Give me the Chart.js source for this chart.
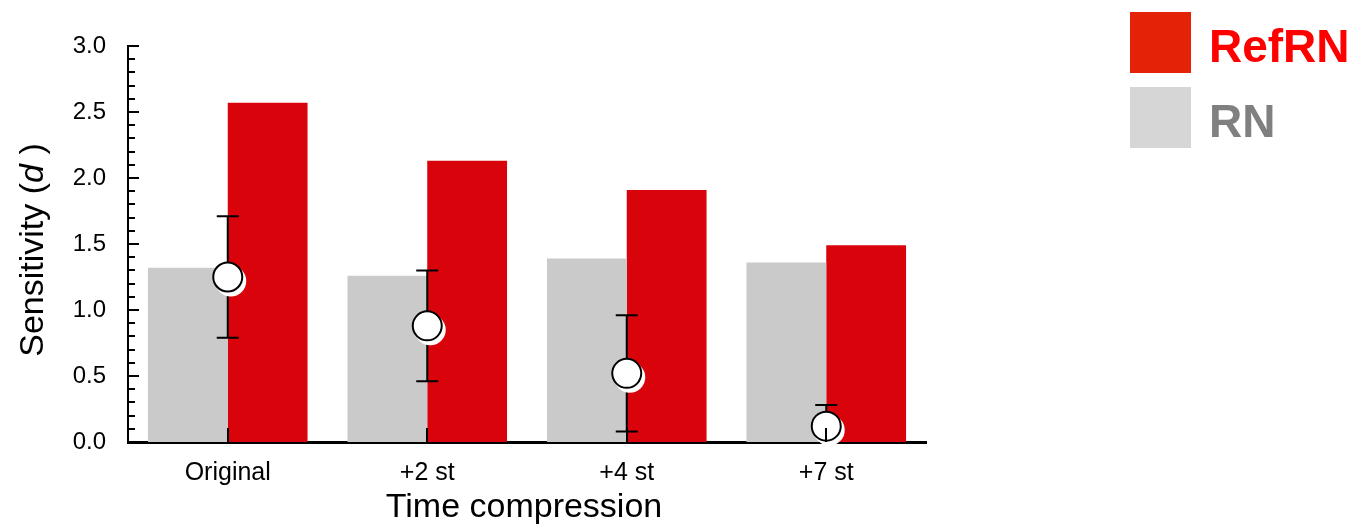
<!DOCTYPE html>
<html>
<head>
<meta charset="utf-8">
<script src="https://cdn.jsdelivr.net/npm/chart.js@4"></script>
<style>
  html, body { margin: 0; padding: 0; background: #fff; }
  #wrap { width: 1357px; height: 525px; position: relative; }
</style>
</head>
<body>
<div id="wrap"><canvas id="c" width="1357" height="525"></canvas></div>
<script>
// Sensitivity (d') per time-compression condition
const categories = ['Original', '+2 st', '+4 st', '+7 st'];
const rnValues = [1.32, 1.26, 1.39, 1.36];
const refrnValues = [2.57, 2.13, 1.91, 1.49];
// Difference RefRN - RN with its error bar half-width
const diffValues = [1.25, 0.88, 0.52, 0.12];
const diffErrors = [0.46, 0.42, 0.44, 0.16];
const yTickLabels = ['0.0', '0.5', '1.0', '1.5', '2.0', '2.5', '3.0'];
const legendLabels = ['RefRN', 'RN'];

const FONT = '"Liberation Sans", Arial, Helvetica, sans-serif';
const RED = '#d9040b';
const GRAY = '#cacaca';

// Error bars and the white offset halo drawn under the circles
const errorBarPlugin = {
  id: 'errorBars',
  beforeDatasetDraw(chart, args) {
    if (args.index !== 2) return;
    const ctx = chart.ctx;
    const y = chart.scales.y;
    const area = chart.chartArea;
    const meta = chart.getDatasetMeta(2);
    ctx.save();
    ctx.beginPath();
    ctx.rect(area.left, area.top - 5, area.right - area.left, area.bottom - area.top + 5);
    ctx.clip();
    ctx.strokeStyle = '#000';
    ctx.lineWidth = 2;
    meta.data.forEach((pt, i) => {
      const x = pt.x;
      const hi = y.getPixelForValue(diffValues[i] + diffErrors[i]);
      const lo = y.getPixelForValue(diffValues[i] - diffErrors[i]);
      ctx.beginPath();
      ctx.moveTo(x, hi); ctx.lineTo(x, lo);
      ctx.moveTo(x - 11, hi); ctx.lineTo(x + 11, hi);
      ctx.moveTo(x - 11, lo); ctx.lineTo(x + 11, lo);
      ctx.stroke();
    });
    ctx.restore();
    ctx.save();
    ctx.fillStyle = '#fff';
    meta.data.forEach((pt) => {
      ctx.beginPath();
      ctx.arc(pt.x + 3, pt.y + 4, 15.5, 0, Math.PI * 2);
      ctx.fill();
    });
    ctx.restore();
  }
};

// Inward tick marks, axis titles and the legend
const decorPlugin = {
  id: 'decor',
  afterDraw(chart) {
    const ctx = chart.ctx;
    const xs = chart.scales.x;
    const ys = chart.scales.y;
    const area = chart.chartArea;
    ctx.save();
    ctx.strokeStyle = '#000';
    ctx.lineWidth = 2;
    // y ticks: major every 0.5, minor every 0.1
    for (let k = 0; k <= 30; k++) {
      const py = Math.round(ys.getPixelForValue(k / 10));
      const len = (k % 5 === 0) ? 11 : 7;
      ctx.beginPath();
      ctx.moveTo(area.left, py);
      ctx.lineTo(area.left + len, py);
      ctx.stroke();
    }
    // x ticks at category centres
    categories.forEach((c, i) => {
      const px = Math.round(xs.getPixelForValue(i));
      ctx.beginPath();
      ctx.moveTo(px, area.bottom);
      ctx.lineTo(px, area.bottom - 14);
      ctx.stroke();
    });

    // x title
    ctx.fillStyle = '#000';
    ctx.font = '34px ' + FONT;
    ctx.textAlign = 'center';
    ctx.textBaseline = 'alphabetic';
    ctx.fillText('Time compression', 524, 517);

    // y title with italic d
    const partA = 'Sensitivity (';
    const partB = 'd';
    const partC = ' )';
    const normal = '34px ' + FONT;
    const italic = 'italic 34px ' + FONT;
    ctx.font = normal;
    const wA = ctx.measureText(partA).width;
    const wC = ctx.measureText(partC).width;
    ctx.font = italic;
    const wB = ctx.measureText(partB).width;
    const total = wA + wB + wC;
    ctx.translate(43, 250);
    ctx.rotate(-Math.PI / 2);
    ctx.textAlign = 'left';
    let sx = -total / 2;
    ctx.font = normal;
    ctx.fillText(partA, sx, 0); sx += wA;
    ctx.font = italic;
    ctx.fillText(partB, sx, 0); sx += wB;
    ctx.font = normal;
    ctx.fillText(partC, sx, 0);
    ctx.restore();

    // legend
    ctx.save();
    ctx.font = 'bold 46px ' + FONT;
    ctx.textAlign = 'left';
    ctx.textBaseline = 'alphabetic';
    ctx.fillStyle = '#e32207';
    ctx.fillRect(1130, 12, 61, 61);
    ctx.fillStyle = '#ff0000';
    ctx.fillText(legendLabels[0], 1209, 62);
    ctx.fillStyle = '#d6d6d6';
    ctx.fillRect(1130, 87, 61, 61);
    ctx.fillStyle = '#808080';
    ctx.fillText(legendLabels[1], 1209, 137);
    ctx.restore();
  }
};

new Chart(document.getElementById('c'), {
  type: 'bar',
  data: {
    labels: categories,
    datasets: [
      {
        label: legendLabels[1],
        data: rnValues,
        backgroundColor: GRAY,
        borderWidth: 0,
        categoryPercentage: 0.8,
        barPercentage: 1.0,
        order: 1
      },
      {
        label: legendLabels[0],
        data: refrnValues,
        backgroundColor: RED,
        borderWidth: 0,
        categoryPercentage: 0.8,
        barPercentage: 1.0,
        order: 2
      },
      {
        type: 'line',
        label: 'RefRN - RN',
        data: diffValues,
        showLine: false,
        pointRadius: 14.5,
        pointBackgroundColor: '#fff',
        pointBorderColor: '#000',
        pointBorderWidth: 2,
        order: 0
      }
    ]
  },
  options: {
    responsive: false,
    animation: false,
    events: [],
    devicePixelRatio: 1,
    layout: { padding: { left: 0, top: 46, right: 431, bottom: 0 } },
    plugins: {
      legend: { display: false },
      tooltip: { enabled: false },
      title: { display: false }
    },
    scales: {
      x: {
        grid: { display: false },
        border: { display: true, color: '#000', width: 3 },
        ticks: { color: '#000', font: { family: FONT, size: 25 }, padding: 8, maxRotation: 0 },
        afterFit(s) { s.height = 83; }
      },
      y: {
        min: 0,
        max: 3,
        grid: { display: false },
        border: { display: true, color: '#000', width: 2 },
        ticks: {
          stepSize: 0.5,
          color: '#000',
          font: { family: FONT, size: 24 },
          padding: 14,
          callback: (v, i) => yTickLabels[i]
        },
        afterFit(s) { s.width = 128; }
      }
    }
  },
  plugins: [errorBarPlugin, decorPlugin]
});
</script>
</body>
</html>
